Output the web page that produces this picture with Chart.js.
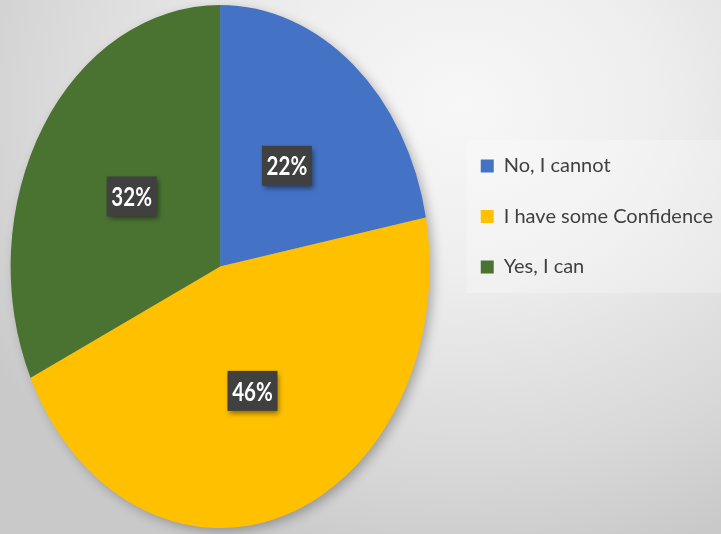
<!DOCTYPE html>
<html>
<head>
<meta charset="utf-8">
<script src="https://cdn.jsdelivr.net/npm/chart.js@4.4.0/dist/chart.umd.min.js"></script>
<style>
    html, body { margin: 0; padding: 0; }
    body {
        position: relative;
        width: 721px;
        height: 534px;
        overflow: hidden;
        background: radial-gradient(ellipse 78% 88% at 64% 20%, #f7f7f7 0%, #eeeeee 35%, #d9d9d9 75%, #c9c9c9 100%);
    }
    #wrap { position: absolute; left: -10px; top: 0; width: 731px; height: 534px; }
</style>
</head>
<body>
<div id="wrap"><canvas id="confidenceChart"></canvas></div>
<script>
const categories = ['No, I cannot', 'I have some Confidence', 'Yes, I can'];
const shares = [22, 46, 32];
const sliceColors = ['#4472C4', '#FFC000', '#4A7332'];

// the picture is a stretched pie: taller than wide
const STRETCH_Y = 261.5 / 209.5;

const ellipsePie = {
    id: 'ellipsePie',
    beforeDraw(chart) {
        // faint band behind the legend
        const legend = chart.legend;
        if (!legend || !legend.legendHitBoxes || !legend.legendHitBoxes.length) return;
        const boxes = legend.legendHitBoxes;
        const first = boxes[0];
        const last = boxes[boxes.length - 1];
        const x0 = first.left - 14;
        const ctx = chart.ctx;
        ctx.save();
        ctx.fillStyle = 'rgba(255,255,255,0.25)';
        ctx.fillRect(x0, first.top - 16, chart.width - x0, last.top + last.height - first.top + 32);
        ctx.restore();
    },
    beforeDatasetsDraw(chart) {
        const arc = chart.getDatasetMeta(0).data[0];
        if (!arc) return;
        const ctx = chart.ctx;
        ctx.save();
        ctx.translate(arc.x, arc.y);
        ctx.scale(1, STRETCH_Y);
        ctx.translate(-arc.x, -arc.y);
        // soft shadow under the whole pie
        ctx.save();
        ctx.shadowColor = 'rgba(0,0,0,0.30)';
        ctx.shadowBlur = 12;
        ctx.shadowOffsetX = 4;
        ctx.shadowOffsetY = 4;
        ctx.fillStyle = '#9a9a9a';
        ctx.beginPath();
        ctx.arc(arc.x, arc.y, arc.outerRadius - 1, 0, Math.PI * 2);
        ctx.fill();
        ctx.restore();
    },
    afterDatasetsDraw(chart) {
        const ctx = chart.ctx;
        ctx.restore();
        const meta = chart.getDatasetMeta(0);
        meta.data.forEach((arc, i) => {
            const mid = (arc.startAngle + arc.endAngle) / 2;
            const r = arc.outerRadius * 0.5;
            const lx = arc.x + Math.cos(mid) * r;
            const ly = arc.y + Math.sin(mid) * r * STRETCH_Y;

            ctx.save();
            ctx.shadowColor = 'rgba(0,0,0,0.45)';
            ctx.shadowBlur = 5;
            ctx.shadowOffsetX = 2;
            ctx.shadowOffsetY = 3;
            ctx.fillStyle = '#404040';
            ctx.fillRect(lx - 25, ly - 20, 50, 40);
            ctx.restore();

            ctx.save();
            ctx.translate(lx, ly);
            ctx.scale(0.76, 1);
            ctx.fillStyle = '#ffffff';
            ctx.font = 'bold 27px Lato';
            ctx.textAlign = 'center';
            ctx.textBaseline = 'middle';
            ctx.fillText(shares[i] + '%', 0, 1);
            ctx.restore();
        });
    }
};

new Chart(document.getElementById('confidenceChart'), {
    type: 'pie',
    data: {
        labels: categories,
        datasets: [{
            data: shares,
            backgroundColor: sliceColors,
            borderWidth: 0,
            radius: 209.5
        }]
    },
    options: {
        responsive: true,
        maintainAspectRatio: false,
        animation: false,
        layout: {
            padding: { left: 0, top: 125.5, right: -2, bottom: 126.5 }
        },
        plugins: {
            tooltip: { enabled: false },
            legend: {
                position: 'right',
                align: 'start',
                labels: {
                    boxWidth: 13,
                    boxHeight: 13,
                    padding: 30.5,
                    color: '#404040',
                    font: { family: 'Lato', size: 20 }
                }
            }
        }
    },
    plugins: [ellipsePie]
});
</script>
</body>
</html>
